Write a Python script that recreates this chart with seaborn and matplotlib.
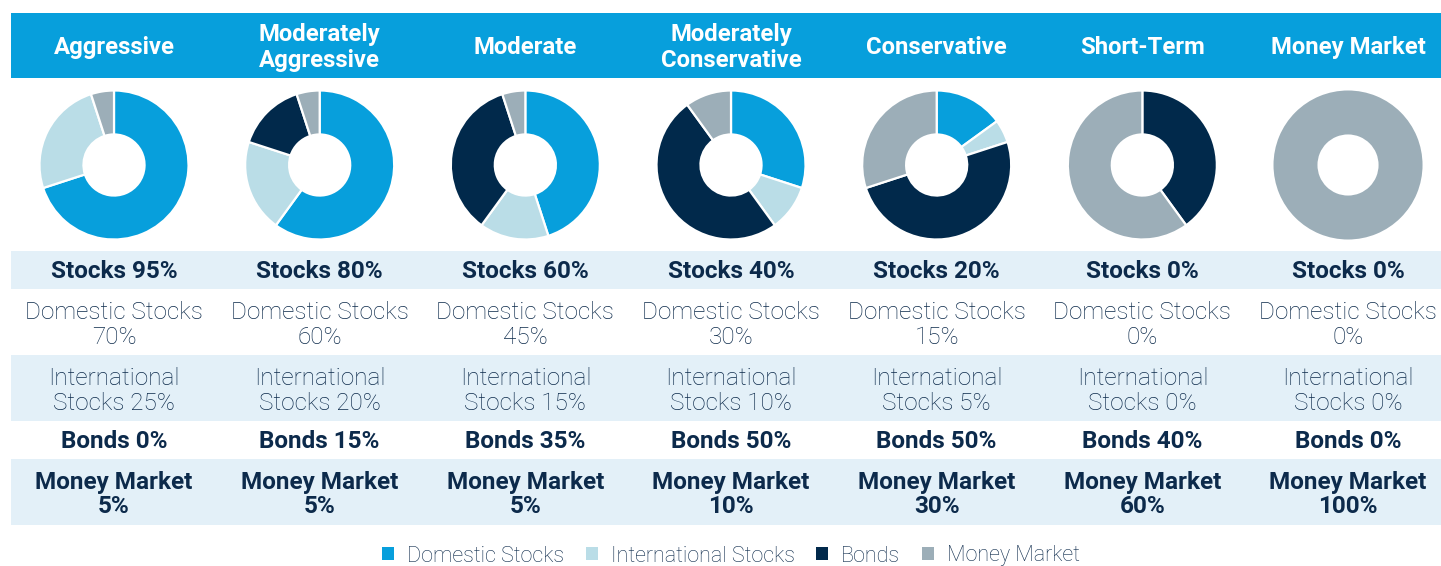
import matplotlib
matplotlib.use("Agg")
import matplotlib.pyplot as plt
from matplotlib.patches import Rectangle, Patch
import seaborn as sns

# --- Data ---
profiles = ["Aggressive", "Moderately\nAggressive", "Moderate",
            "Moderately\nConservative", "Conservative", "Short-Term",
            "Money Market"]
domestic = [70, 60, 45, 30, 15, 0, 0]
international = [25, 20, 15, 10, 5, 0, 0]
bonds = [0, 15, 35, 50, 50, 40, 0]
money_market = [5, 5, 5, 10, 30, 60, 100]
segments = ["Domestic Stocks", "International Stocks", "Bonds", "Money Market"]

# --- Style ---
seg_colors = ["#079fdc", "#badde7", "#01294b", "#9caeb8"]
header_blue = "#079fdc"
row_blue = "#e3f0f8"
navy = "#0c2a4b"

sns.set_style("white")
plt.rcParams["font.family"] = ["Roboto", "DejaVu Sans"]

W, H = 1441, 566
fig = plt.figure(figsize=(W / 100, H / 100), dpi=100)

# background axes in pixel coordinates
bg = fig.add_axes([0, 0, 1, 1])
bg.set_xlim(0, W)
bg.set_ylim(H, 0)
bg.axis("off")

left = 11
bg.add_patch(Rectangle((left, 13), W - left, 65, color=header_blue, lw=0))
for y0, y1 in [(251, 289), (355, 421), (459, 525)]:
    bg.add_patch(Rectangle((left, y0), W - left, y1 - y0, color=row_blue, lw=0))

col_w = 205.67
centers = [114 + i * col_w for i in range(len(profiles))]
r = 76
cy = 165
fs = 17.5

for i, cx in enumerate(centers):
    bg.text(cx, 47.5, profiles[i], ha="center", va="center", color="white",
            fontsize=17.2, fontweight="bold", linespacing=1.18)

    stocks = domestic[i] + international[i]
    bg.text(cx, 272, f"Stocks {stocks}%", ha="center", va="center",
            color=navy, fontsize=fs, fontweight="bold")
    bg.text(cx, 325, f"Domestic Stocks\n{domestic[i]}%", ha="center",
            va="center", color=navy, fontsize=fs, fontweight="light",
            linespacing=1.1)
    bg.text(cx, 391, f"International\nStocks {international[i]}%",
            ha="center", va="center", color=navy, fontsize=fs,
            fontweight="light", linespacing=1.1)
    bg.text(cx, 442, f"Bonds {bonds[i]}%", ha="center", va="center",
            color=navy, fontsize=fs, fontweight="bold")
    bg.text(cx, 494.5, f"Money Market\n{money_market[i]}%", ha="center",
            va="center", color=navy, fontsize=fs, fontweight="bold",
            linespacing=1.1)

    # donut
    ax = fig.add_axes([(cx - r) / W, (H - cy - r) / H, 2 * r / W, 2 * r / H])
    vals = [domestic[i], international[i], bonds[i], money_market[i]]
    keep = [(v, c) for v, c in zip(vals, seg_colors) if v > 0]
    ax.pie([v for v, _ in keep], colors=[c for _, c in keep],
           startangle=90, counterclock=False, radius=1,
           wedgeprops=dict(width=0.59, edgecolor="white",
                           linewidth=1.6 if len(keep) > 1 else 0))
    ax.set_xlim(-1.02, 1.02)
    ax.set_ylim(-1.02, 1.02)
    ax.set_aspect("equal")
    ax.axis("off")

handles = [Patch(facecolor=c, edgecolor="none", label=s)
           for s, c in zip(segments, seg_colors)]
leg = fig.legend(handles=handles, loc="center", ncol=4,
                 bbox_to_anchor=(731 / W, 1 - 556 / H), frameon=False,
                 fontsize=15.5, handlelength=0.56, handleheight=0.56,
                 handletextpad=0.6, columnspacing=1.0)
for t in leg.get_texts():
    t.set_color(navy)
    t.set_fontweight("light")

fig.savefig("out.png", dpi=100)
